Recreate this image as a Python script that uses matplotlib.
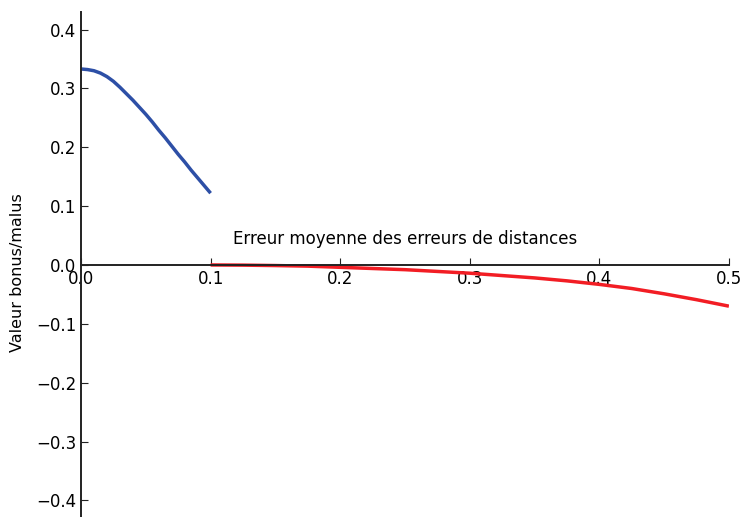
import matplotlib
matplotlib.use("Agg")
import matplotlib.pyplot as plt

# bonus curve (small errors) and malus curve (larger errors)
bonus_x = [0.0, 0.005, 0.01, 0.015, 0.02, 0.025, 0.03, 0.035, 0.04, 0.045, 0.05,
           0.055, 0.06, 0.065, 0.07, 0.075, 0.08, 0.085, 0.09, 0.095, 0.1]
bonus_y = [0.333, 0.332, 0.330, 0.326, 0.320, 0.312, 0.302, 0.291, 0.280, 0.268, 0.256,
           0.243, 0.229, 0.216, 0.202, 0.188, 0.175, 0.161, 0.148, 0.135, 0.122]

malus_x = [0.1, 0.125, 0.15, 0.175, 0.2, 0.225, 0.25, 0.275, 0.3,
           0.325, 0.35, 0.375, 0.4, 0.425, 0.45, 0.475, 0.5]
malus_y = [0.0, -0.0003, -0.001, -0.002, -0.004, -0.006, -0.008, -0.011, -0.014,
           -0.018, -0.022, -0.027, -0.033, -0.040, -0.049, -0.059, -0.070]

xticks = [0.0, 0.1, 0.2, 0.3, 0.4, 0.5]
yticks = [-0.4, -0.3, -0.2, -0.1, 0.0, 0.1, 0.2, 0.3, 0.4]

fig = plt.figure(figsize=(7.4, 5.17), dpi=100)
ax = fig.add_axes([0.1095, -0.002, 0.8755, 0.979])

ax.plot(bonus_x, bonus_y, color="#2d4fa6", lw=2.5, solid_capstyle="butt")
ax.plot(malus_x, malus_y, color="#f21d24", lw=2.5, solid_capstyle="butt")

ax.set_xlim(0, 0.5)
ax.set_ylim(-0.43, 0.43)

ax.spines["top"].set_visible(False)
ax.spines["right"].set_visible(False)
ax.spines["bottom"].set_position(("data", 0))
ax.spines["left"].set_position(("data", 0))
for s in ("bottom", "left"):
    ax.spines[s].set_color("#222222")
    ax.spines[s].set_linewidth(1.4)

ax.set_xticks(xticks)
ax.set_yticks(yticks)
ax.xaxis.set_ticks_position("bottom")
ax.yaxis.set_ticks_position("left")
ax.tick_params(direction="in", length=5, labelsize=12, color="#222222")

ax.set_xlabel("Erreur moyenne des erreurs de distances", fontsize=12)
ax.xaxis.set_label_coords(0.5, 0.57)
ax.set_ylabel("Valeur bonus/malus", fontsize=11.5)
ax.yaxis.set_label_coords(-0.086, 0.485)

fig.savefig("out.png", dpi=100)
